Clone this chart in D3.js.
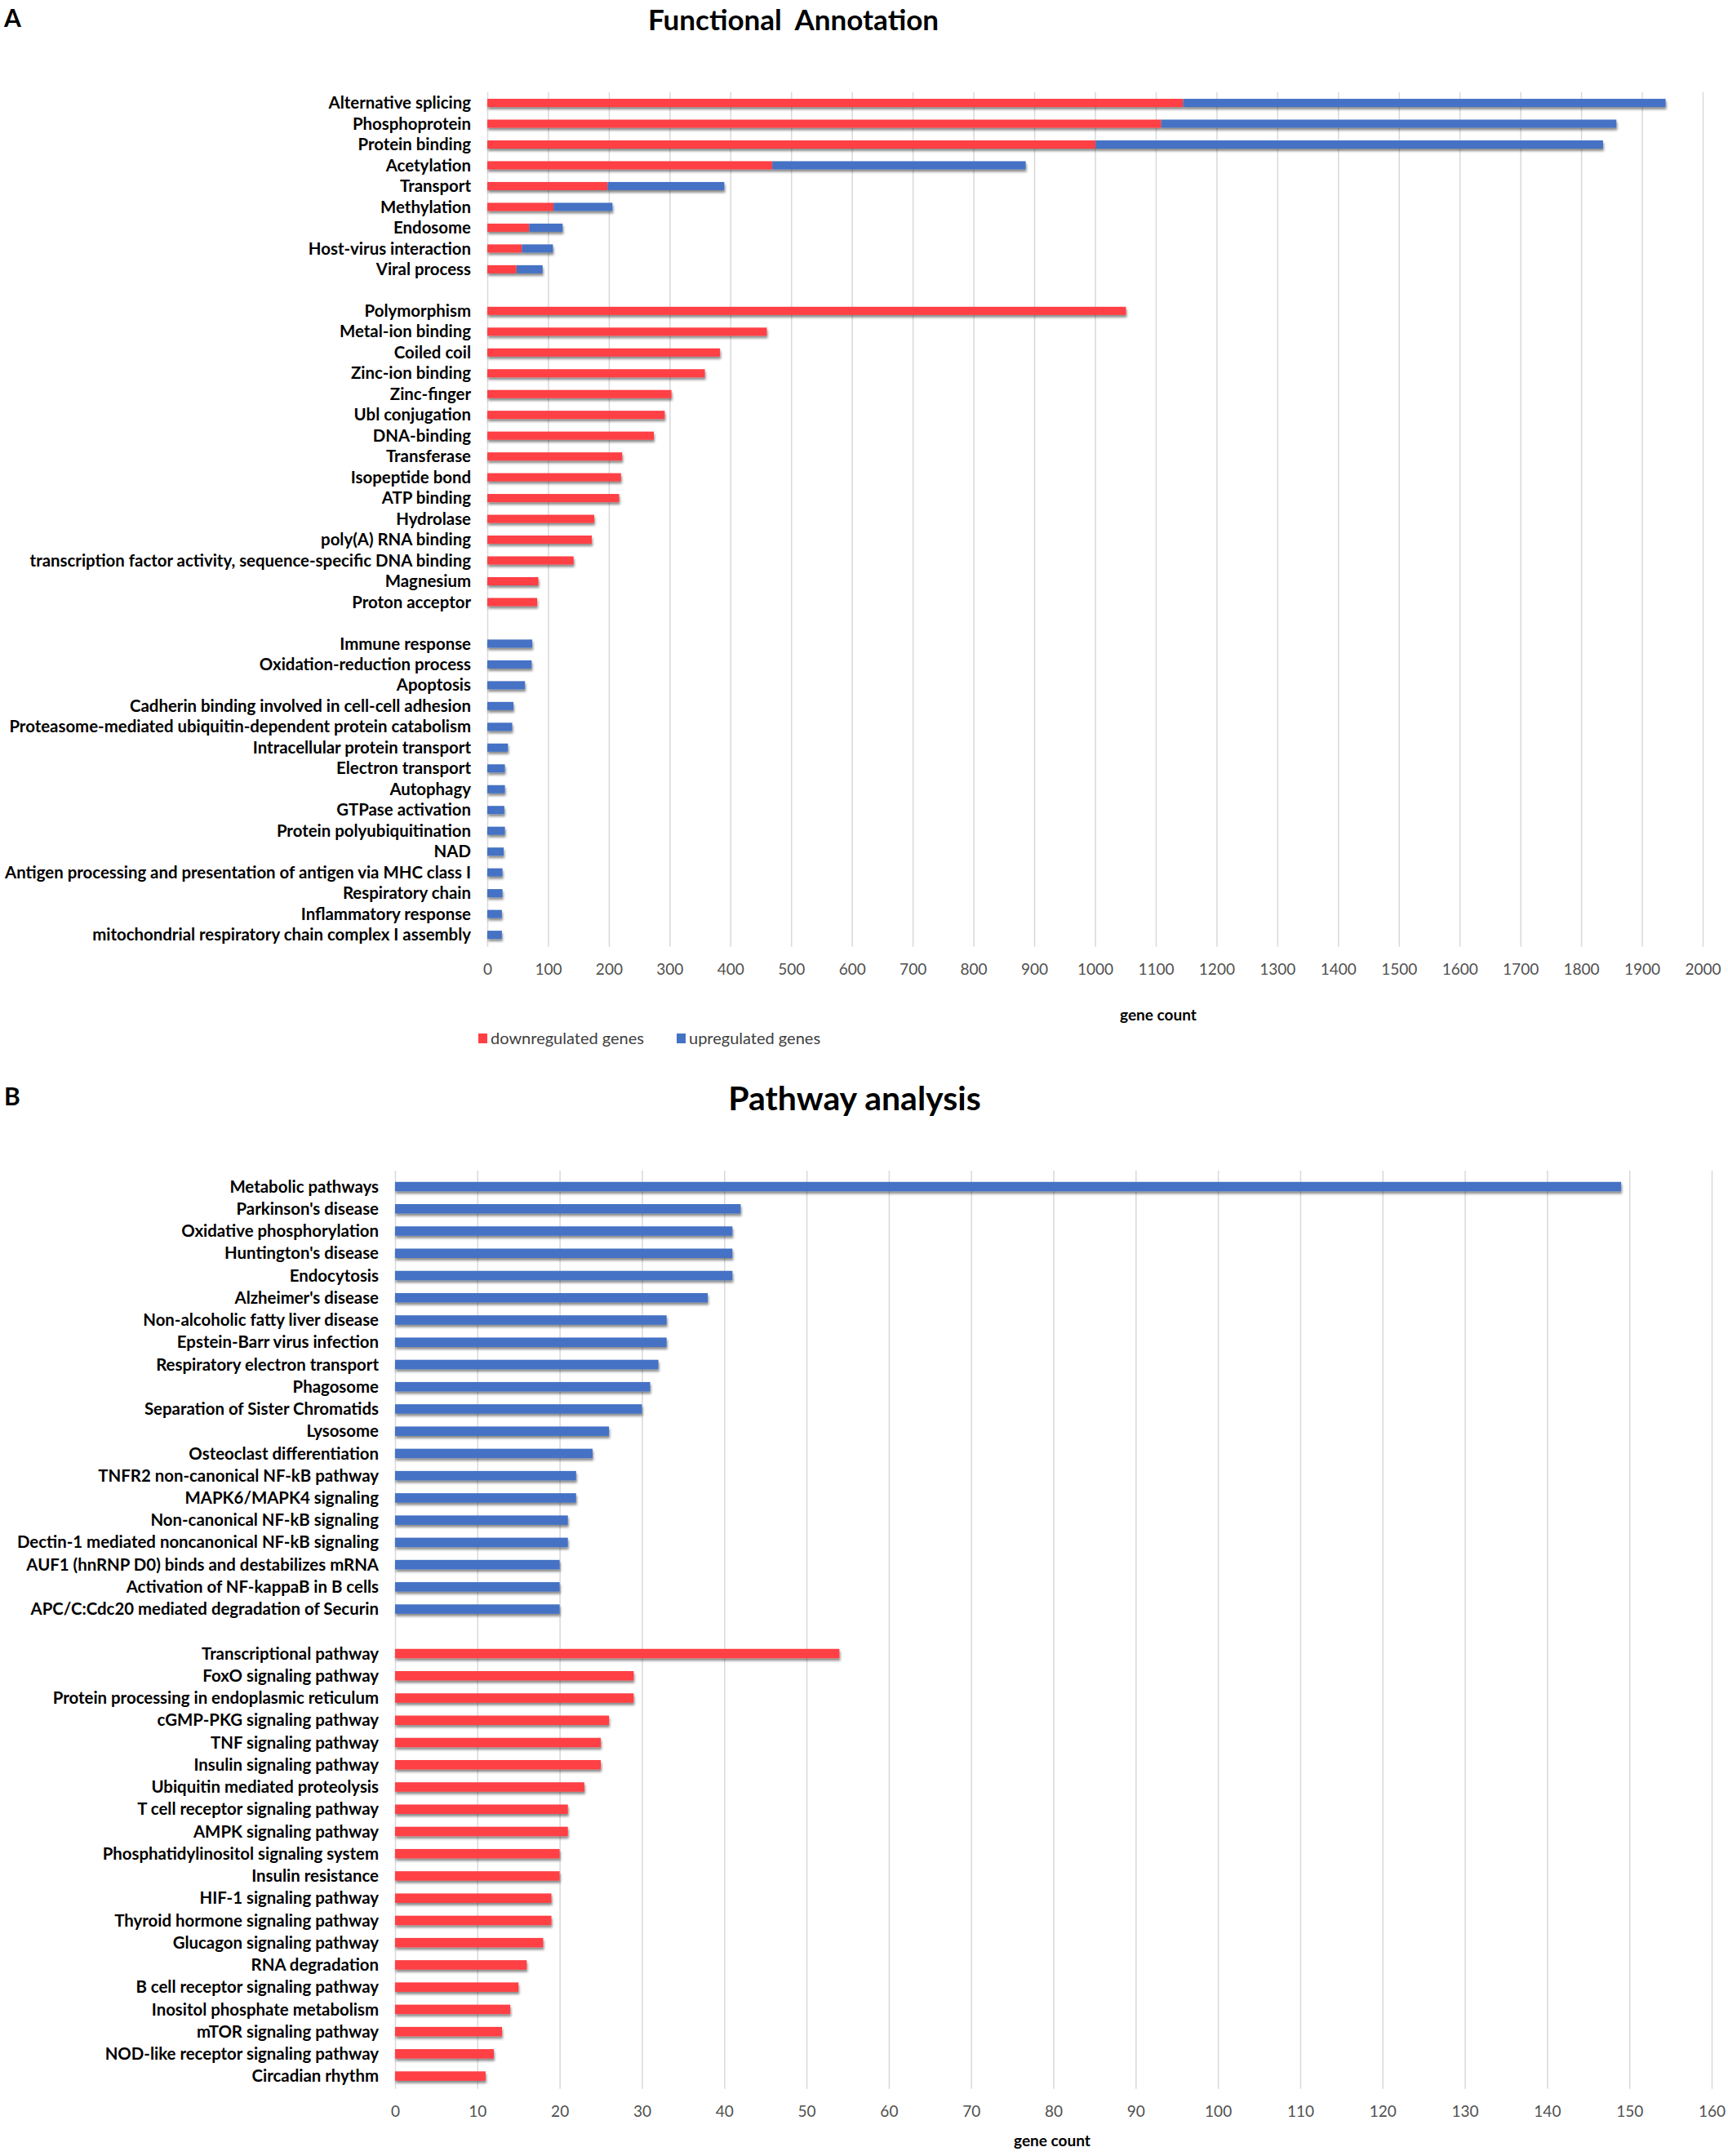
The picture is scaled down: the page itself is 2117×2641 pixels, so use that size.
<!DOCTYPE html>
<html>
<head>
<meta charset="utf-8">
<script src="https://cdn.jsdelivr.net/npm/d3@7"></script>
<style>
body { margin: 0; background: #fff; }
text { font-family: Lato, "Open Sans", sans-serif; }
</style>
</head>
<body>
<div id="chart"></div>
<script>
// A: functional annotation, three groups split by an empty row
const faCategories = [
    "Alternative splicing", "Phosphoprotein", "Protein binding", "Acetylation", "Transport",
    "Methylation", "Endosome", "Host-virus interaction", "Viral process",
    "",
    "Polymorphism", "Metal-ion binding", "Coiled coil", "Zinc-ion binding", "Zinc-finger",
    "Ubl conjugation", "DNA-binding", "Transferase", "Isopeptide bond", "ATP binding",
    "Hydrolase", "poly(A) RNA binding", "transcription factor activity, sequence-specific DNA binding",
    "Magnesium", "Proton acceptor",
    "",
    "Immune response", "Oxidation-reduction process", "Apoptosis",
    "Cadherin binding involved in cell-cell adhesion",
    "Proteasome-mediated ubiquitin-dependent protein catabolism",
    "Intracellular protein transport", "Electron transport", "Autophagy", "GTPase activation",
    "Protein polyubiquitination", "NAD",
    "Antigen processing and presentation of antigen via MHC class I",
    "Respiratory chain", "Inflammatory response", "mitochondrial respiratory chain complex I assembly"
]
const faDown = [
    1145, 1109, 1001, 469, 198, 109, 69, 57, 48,
    0,
    1051, 460, 383, 358, 303, 292, 274, 222, 220, 217, 176, 172, 142, 84, 82,
    0,
    0, 0, 0, 0, 0, 0, 0, 0, 0, 0, 0, 0, 0, 0, 0
]
const faUp = [
    794, 749, 835, 417, 192, 97, 55, 51, 43,
    0,
    0, 0, 0, 0, 0, 0, 0, 0, 0, 0, 0, 0, 0, 0, 0,
    0,
    74, 73, 62, 43, 41, 34, 29, 29, 28, 29, 27, 25, 25, 24, 24
]
const faTicks = [0, 100, 200, 300, 400, 500, 600, 700, 800, 900, 1000,
    1100, 1200, 1300, 1400, 1500, 1600, 1700, 1800, 1900, 2000]

// B: pathway analysis
const pwUpNames = [
    "Metabolic pathways", "Parkinson's disease", "Oxidative phosphorylation", "Huntington's disease",
    "Endocytosis", "Alzheimer's disease", "Non-alcoholic fatty liver disease", "Epstein-Barr virus infection",
    "Respiratory electron transport", "Phagosome", "Separation of Sister Chromatids", "Lysosome",
    "Osteoclast differentiation", "TNFR2 non-canonical NF-kB pathway", "MAPK6/MAPK4 signaling",
    "Non-canonical NF-kB signaling", "Dectin-1 mediated noncanonical NF-kB signaling",
    "AUF1 (hnRNP D0) binds and destabilizes mRNA", "Activation of NF-kappaB in B cells",
    "APC/C:Cdc20 mediated degradation of Securin"
]
const pwUpCounts = [149, 42, 41, 41, 41, 38, 33, 33, 32, 31, 30, 26, 24, 22, 22, 21, 21, 20, 20, 20]
const pwDownNames = [
    "Transcriptional pathway", "FoxO signaling pathway", "Protein processing in endoplasmic reticulum",
    "cGMP-PKG signaling pathway", "TNF signaling pathway", "Insulin signaling pathway",
    "Ubiquitin mediated proteolysis", "T cell receptor signaling pathway", "AMPK signaling pathway",
    "Phosphatidylinositol signaling system", "Insulin resistance", "HIF-1 signaling pathway",
    "Thyroid hormone signaling pathway", "Glucagon signaling pathway", "RNA degradation",
    "B cell receptor signaling pathway", "Inositol phosphate metabolism", "mTOR signaling pathway",
    "NOD-like receptor signaling pathway", "Circadian rhythm"
]
const pwDownCounts = [54, 29, 29, 26, 25, 25, 23, 21, 21, 20, 20, 19, 19, 18, 16, 15, 14, 13, 12, 11]
const pwTicks = [0, 10, 20, 30, 40, 50, 60, 70, 80, 90, 100, 110, 120, 130, 140, 150, 160]

const RED = "#FF3F44"
const BLUE = "#4472C4"
const GRID = "#D9D9D9"

var svg = d3.select("#chart")
    .append("svg")
    .attr("width", 2117)
    .attr("height", 2641)
    .style("background-color", "white")

var defs = svg.append("defs")
defs.append("filter")
    .attr("id", "shadow")
    .attr("x", "-5%").attr("y", "-50%").attr("width", "110%").attr("height", "250%")
    .append("feDropShadow")
    .attr("dx", 1).attr("dy", 3).attr("stdDeviation", 1.8)
    .attr("flood-color", "#000").attr("flood-opacity", 0.45)

// shared panel drawing: rows = [{name, down, up}], stacked red then blue
panel = (opts) => {
    const g = svg.append("g")
    const x = d3.scaleLinear().domain([0, opts.max]).range([opts.x0, opts.x1])
    const y = d3.scaleBand().domain(d3.range(opts.rows.length)).range([opts.top, opts.bottom])

    // vertical gridlines
    g.append("g")
        .attr("transform", `translate(0,${opts.bottom + 2})`)
        .call(d3.axisBottom(x).tickValues(opts.ticks).tickSize(-(opts.bottom + 2 - opts.gridTop)).tickFormat(""))
        .call(a => a.select(".domain").remove())
        .selectAll("line").attr("stroke", GRID).attr("stroke-width", 1.5)

    // tick labels
    g.append("g")
        .attr("transform", `translate(0,${opts.tickY})`)
        .call(d3.axisBottom(x).tickValues(opts.ticks).tickSize(0).tickPadding(0).tickFormat(d3.format("d")))
        .call(a => a.select(".domain").remove())
        .selectAll("text")
        .attr("dy", "0.35em")
        .attr("fill", "#505050")
        .style("font-size", "19px")
        .style("font-family", "Lato, sans-serif")

    // category labels
    g.append("g")
        .attr("transform", `translate(${opts.x0 - 20},0)`)
        .call(d3.axisLeft(y).tickSize(0).tickPadding(0).tickFormat(i => opts.rows[i].name))
        .call(a => a.select(".domain").remove())
        .selectAll("text")
        .attr("fill", "#000")
        .attr("dy", "0.35em")
        .style("font-size", "20.4px")
        .style("font-weight", "bold")
        .style("font-family", "Lato, sans-serif")

    const stacked = d3.stack().keys(["down", "up"])(opts.rows)
    const colors = {down: RED, up: BLUE}
    const barH = opts.barH
    g.append("g")
        .attr("filter", "url(#shadow)")
        .selectAll("g")
        .data(stacked)
        .enter()
        .append("g")
        .attr("fill", d => colors[d.key])
        .selectAll("rect")
        .data(d => d.map((s, i) => ({s, i})).filter(e => e.s[1] > e.s[0]))
        .enter()
        .append("rect")
        .attr("x", e => x(e.s[0]))
        .attr("width", e => x(e.s[1]) - x(e.s[0]))
        .attr("y", e => y(e.i) + y.bandwidth() / 2 - barH / 2)
        .attr("height", barH)

    // axis title
    g.append("text")
        .attr("x", opts.titleX)
        .attr("y", opts.titleY)
        .attr("text-anchor", "middle")
        .attr("dy", "0.35em")
        .style("font-size", "19px")
        .style("font-weight", "bold")
        .text("gene count")
    return g
}

// ---- panel A ----
var faRows = faCategories.map((name, i) => ({name, down: faDown[i], up: faUp[i]}))
panel({
    rows: faRows, max: 2000, ticks: faTicks,
    x0: 597, x1: 2086, top: 113.3, bottom: 1157.8, gridTop: 113, barH: 10,
    tickY: 1187, titleX: 1419, titleY: 1243
})

svg.append("text").attr("x", 5).attr("y", 33)
    .style("font-size", "30px").style("font-weight", "bold").text("A")
svg.append("text").attr("x", 972).attr("y", 37).attr("text-anchor", "middle")
    .attr("xml:space", "preserve").style("white-space", "pre")
    .style("font-size", "35px").style("font-weight", "bold").text("Functional  Annotation")

// legend for panel A
var legend = svg.append("g").attr("transform", "translate(586,1272)")
var legendItems = [{label: "downregulated genes", color: RED, dx: 0}, {label: "upregulated genes", color: BLUE, dx: 243}]
legend.selectAll("rect")
    .data(legendItems)
    .enter()
    .append("rect")
    .attr("x", d => d.dx)
    .attr("y", -6)
    .attr("width", 11)
    .attr("height", 12)
    .attr("fill", d => d.color)
legend.selectAll("text")
    .data(legendItems)
    .enter()
    .append("text")
    .attr("x", d => d.dx + 15)
    .attr("dy", "0.35em")
    .attr("fill", "#404040")
    .style("font-size", "20px")
    .text(d => d.label)

// ---- panel B ----
var pwRows = pwUpNames.map((name, i) => ({name, down: 0, up: pwUpCounts[i]}))
    .concat([{name: "", down: 0, up: 0}])
    .concat(pwDownNames.map((name, i) => ({name, down: pwDownCounts[i], up: 0})))
panel({
    rows: pwRows, max: 160, ticks: pwTicks,
    x0: 484, x1: 2097, top: 1439.9, bottom: 2556.7, gridTop: 1434, barH: 11.5,
    tickY: 2586, titleX: 1289, titleY: 2622
})

svg.append("text").attr("x", 5).attr("y", 1354)
    .style("font-size", "30px").style("font-weight", "bold").text("B")
svg.append("text").attr("x", 1047).attr("y", 1360).attr("text-anchor", "middle")
    .style("font-size", "41px").style("font-weight", "bold").text("Pathway analysis")
</script>
</body>
</html>
